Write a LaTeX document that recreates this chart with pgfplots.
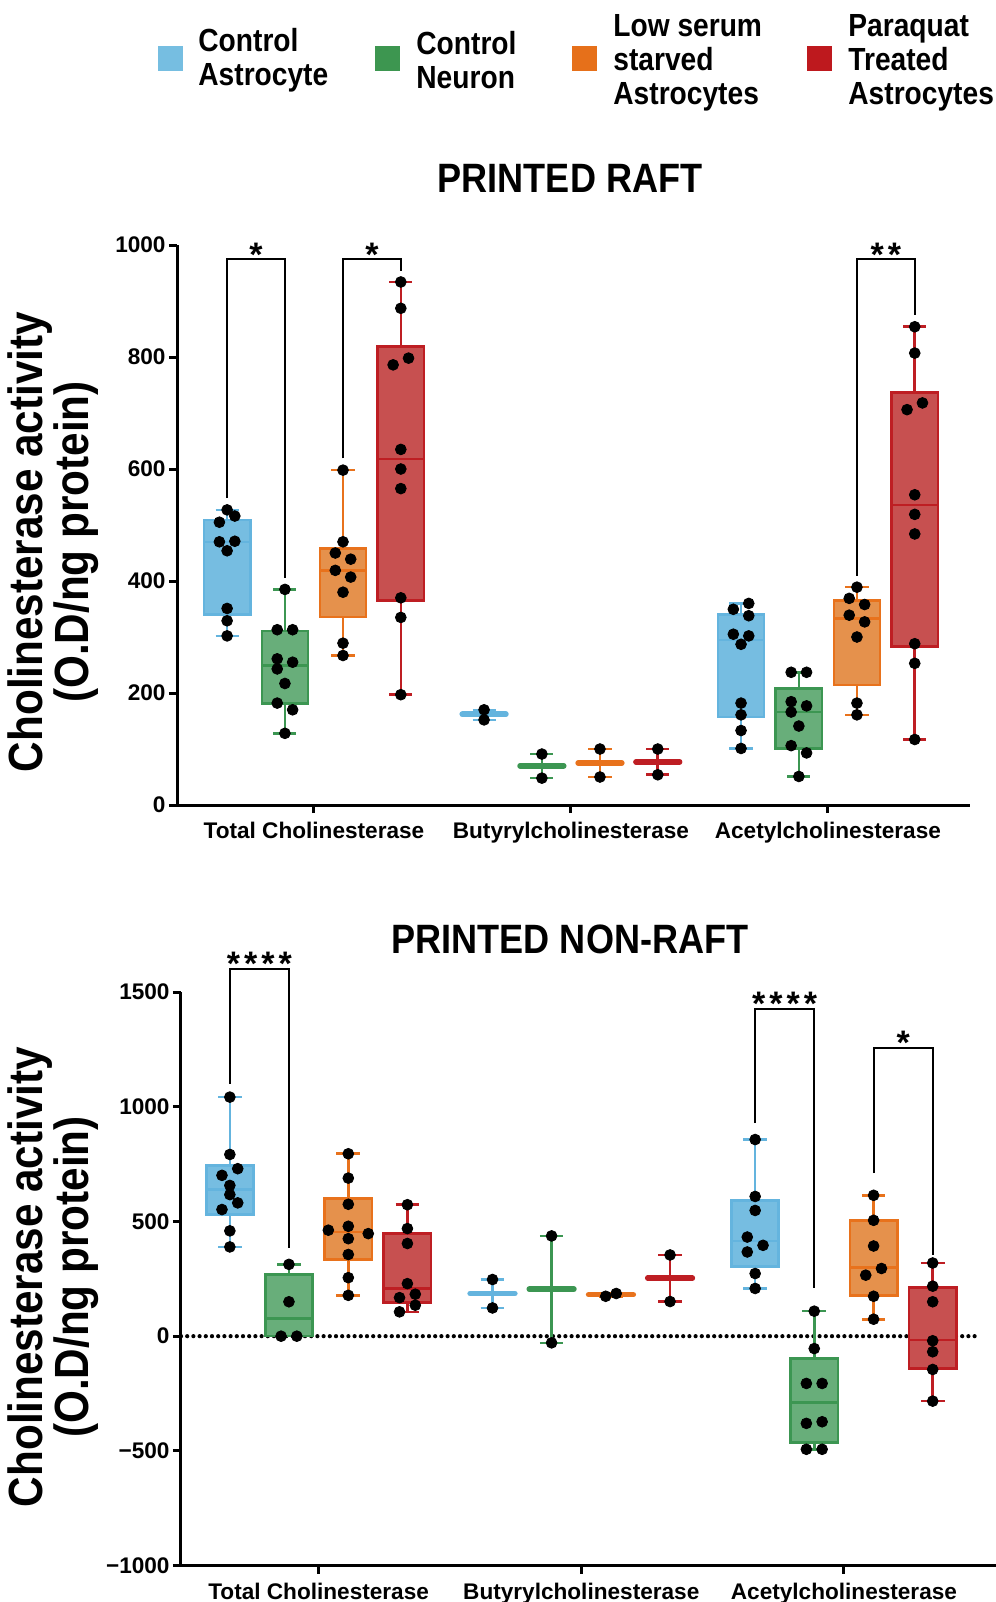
\documentclass[border=0pt]{standalone}
\usepackage{fontspec}
\setmainfont{Liberation Sans}
\newfontfamily\narrowfont{Liberation Sans}[FakeStretch=0.88]
\usepackage{pgfplots}
\pgfplotsset{compat=1.18}

\definecolor{bL}{RGB}{100,180,222}
\definecolor{bF}{RGB}{118,189,225}
\definecolor{gL}{RGB}{60,150,82}
\definecolor{gF}{RGB}{104,174,122}
\definecolor{oL}{RGB}{232,114,28}
\definecolor{oF}{RGB}{229,145,76}
\definecolor{rL}{RGB}{190,30,35}
\definecolor{rF}{RGB}{199,80,80}
\definecolor{bS}{RGB}{118,190,225}
\definecolor{gS}{RGB}{61,150,80}
\definecolor{oS}{RGB}{230,112,26}
\definecolor{rS}{RGB}{190,25,30}

% box: position, lower whisker, q1, median, q3, upper whisker, colour prefix
\newcommand{\bx}[7]{%
 \pgfmathsetmacro\xa{#1-0.09}\pgfmathsetmacro\xb{#1+0.09}%
 \pgfmathsetmacro\ca{#1-0.045}\pgfmathsetmacro\cb{#1+0.045}%
 \addplot[draw=#7L, line width=1.3pt] coordinates {(#1,#2) (#1,#3)};
 \addplot[draw=#7L, line width=1.3pt] coordinates {(#1,#5) (#1,#6)};
 \addplot[draw=#7L, line width=1.3pt] coordinates {(\ca,#2) (\cb,#2)};
 \addplot[draw=#7L, line width=1.3pt] coordinates {(\ca,#6) (\cb,#6)};
 \addplot[draw=#7L, fill=#7F, line width=1.3pt] coordinates {(\xa,#3) (\xb,#3) (\xb,#5) (\xa,#5)} --cycle;
 \addplot[draw=#7L, line width=1.3pt] coordinates {(\xa,#4) (\xb,#4)};
}
% flat box: position, lower whisker, median, upper whisker, colour prefix
\newcommand{\fbx}[5]{%
 \pgfmathsetmacro\xa{#1-0.085}\pgfmathsetmacro\xb{#1+0.085}%
 \pgfmathsetmacro\ca{#1-0.045}\pgfmathsetmacro\cb{#1+0.045}%
 \addplot[draw=#5L, line width=1.3pt] coordinates {(#1,#2) (#1,#4)};
 \addplot[draw=#5L, line width=1.3pt] coordinates {(\ca,#2) (\cb,#2)};
 \addplot[draw=#5L, line width=1.3pt] coordinates {(\ca,#4) (\cb,#4)};
 \addplot[draw=#5L, line width=2.8pt, line cap=round] coordinates {(\xa,#3) (\xb,#3)};
}
\newcommand{\brk}[7]{\draw[line width=1.1pt, black] (axis cs:#1,#2) -- (axis cs:#1,#5) -- (axis cs:#3,#5) -- (axis cs:#3,#4);
  \node[anchor=base, inner sep=0pt, font=\bfseries\fontsize{17}{17}\selectfont, yshift=-3.5pt] at (axis cs:#6,#5) {#7};}

\pgfplotsset{
 myaxis/.style={
  scale only axis, clip=false,
  axis x line=bottom, axis y line=left,
  axis line style={-, line width=1.5pt, black},
  tick align=outside, major tick length=4pt,
  tick style={line width=1.5pt, black},
  xtick={0,1,2},
  xticklabels={Total Cholinesterase,Butyrylcholinesterase,Acetylcholinesterase},
  ticklabel style={font=\bfseries\fontsize{11.3}{13}\selectfont},
  yticklabel style={xshift=1.8pt},
  xticklabel style={yshift=-1pt},
  minor tick num=0,
 },
 mydots/.style={only marks, mark=*, mark size=2.7pt, black},
}

\begin{document}
\begin{tikzpicture}
\path[use as bounding box] (0pt,0pt) rectangle (498pt,-801pt);

% ---------------- TOP PANEL ----------------
\begin{axis}[myaxis, at={(88.5pt,-402.5pt)}, anchor=south west,
  width=396.5pt, height=280pt,
  xmin=-0.533, xmax=2.553, ymin=0, ymax=1000,
  ytick={0,200,400,600,800,1000}, yticklabels={0,200,400,600,800,1000}]
% Total
\bx{-0.338}{302}{340}{470}{509}{527}{b}
\bx{-0.113}{128}{181}{249}{311}{385}{g}
\bx{0.113}{267}{336}{419}{458}{598}{o}
\bx{0.338}{197}{365}{618}{819}{934}{r}
% Butyryl
\fbx{0.662}{152}{162}{170}{b}
\fbx{0.887}{48}{70}{91}{g}
\fbx{1.113}{50}{75}{100}{o}
\fbx{1.338}{54}{77}{100}{r}
% Acetyl
\bx{1.662}{101}{157}{295}{340}{360}{b}
\bx{1.887}{51}{101}{166}{208}{237}{g}
\bx{2.113}{161}{214}{333}{365}{389}{o}
\bx{2.338}{117}{283}{536}{737}{854}{r}
% dots
\addplot[mydots] coordinates {(-0.338,527) (-0.308,516) (-0.368,505) (-0.368,470) (-0.308,471) (-0.338,454) (-0.338,351) (-0.338,329) (-0.338,302)};
\addplot[mydots] coordinates {(-0.113,385) (-0.143,313) (-0.083,313) (-0.143,261) (-0.083,255) (-0.143,243) (-0.113,217) (-0.143,182) (-0.083,170) (-0.113,128)};
\addplot[mydots] coordinates {(0.113,598) (0.113,470) (0.083,450) (0.143,439) (0.083,419) (0.143,407) (0.113,380) (0.113,289) (0.113,267)};
\addplot[mydots] coordinates {(0.338,934) (0.338,887) (0.308,786) (0.368,798) (0.338,635) (0.338,600) (0.338,565) (0.338,370) (0.338,335) (0.338,197)};
\addplot[mydots] coordinates {(0.662,170) (0.662,152) (0.887,91) (0.887,48) (1.113,100) (1.113,50) (1.338,100) (1.338,54)};
\addplot[mydots] coordinates {(1.692,360) (1.632,349.5) (1.692,338) (1.632,305) (1.692,302) (1.662,287) (1.662,182) (1.662,161) (1.662,133) (1.662,101)};
\addplot[mydots] coordinates {(1.857,237) (1.917,237) (1.857,184.5) (1.917,177) (1.857,166) (1.887,141) (1.857,106) (1.917,93) (1.887,51)};
\addplot[mydots] coordinates {(2.113,389) (2.083,369) (2.143,358) (2.083,339) (2.143,327) (2.113,300) (2.113,182) (2.113,161)};
\addplot[mydots] coordinates {(2.338,854) (2.338,807) (2.308,706) (2.368,718) (2.338,554) (2.338,519) (2.338,484) (2.338,288) (2.338,253) (2.338,117)};
% brackets
\brk{-0.338}{548}{-0.113}{406}{975}{-0.2255}{*}
\brk{0.113}{619}{0.338}{954}{975}{0.2255}{*}
\brk{2.113}{409}{2.338}{875}{975}{2.2255}{*\hspace{2pt}*}
\end{axis}

% ---------------- BOTTOM PANEL ----------------
\begin{axis}[myaxis, at={(90.5pt,-782.8pt)}, anchor=south west,
  width=407.5pt, height=286.8pt,
  xmin=-0.524, xmax=2.579, ymin=-1000, ymax=1500,
  ytick={-1000,-500,0,500,1000,1500}, yticklabels={−1000,−500,0,500,1000,1500}]
\addplot[black, line width=2.1pt, dash pattern=on 0pt off 3.1pt, line cap=round] coordinates {(-0.524,0) (2.52,0)};
% Total
\bx{-0.338}{389}{531}{639}{745}{1042}{b}
\bx{-0.113}{0}{0}{77}{268}{313}{g}
\bx{0.113}{178}{334}{454}{599}{795}{o}
\bx{0.338}{106}{147}{208}{447}{573}{r}
% Butyryl
\fbx{0.662}{123}{186}{247}{b}
\fbx{0.887}{-29}{205}{437}{g}
\fbx{1.113}{174}{181}{186}{o}
\fbx{1.338}{151}{253}{354}{r}
% Acetyl
\bx{1.662}{208}{305}{415}{592}{857}{b}
\bx{1.887}{-493}{-463}{-289}{-97}{109}{g}
\bx{2.113}{74}{178.5}{299}{505}{614}{o}
\bx{2.338}{-283}{-141}{-17}{212}{319}{r}
% dots
\addplot[mydots] coordinates {(-0.338,1042) (-0.338,792) (-0.308,730) (-0.368,701) (-0.338,657) (-0.338,617) (-0.308,581) (-0.368,552) (-0.338,459) (-0.338,389)};
\addplot[mydots] coordinates {(-0.113,313) (-0.113,150) (-0.143,0) (-0.083,0)};
\addplot[mydots] coordinates {(0.113,795) (0.113,689) (0.113,575) (0.037,462) (0.113,479) (0.189,447) (0.113,425) (0.113,356) (0.113,255) (0.113,178)};
\addplot[mydots] coordinates {(0.338,573) (0.338,469) (0.338,404) (0.338,229) (0.308,168) (0.368,183) (0.368,135) (0.308,106)};
\addplot[mydots] coordinates {(0.662,247) (0.662,123) (0.887,437) (0.887,-29) (1.093,174) (1.133,186) (1.338,354) (1.338,151)};
\addplot[mydots] coordinates {(1.662,857) (1.662,609) (1.662,548) (1.632,432) (1.692,396) (1.632,367) (1.662,273) (1.662,208)};
\addplot[mydots] coordinates {(1.887,109) (1.887,-54) (1.857,-206) (1.917,-206) (1.857,-380) (1.917,-373) (1.857,-493) (1.917,-493)};
\addplot[mydots] coordinates {(2.113,614) (2.113,505) (2.113,393) (2.143,295) (2.083,266) (2.113,174) (2.113,74)};
\addplot[mydots] coordinates {(2.338,319) (2.338,218) (2.338,150) (2.338,-20) (2.338,-68) (2.338,-145) (2.338,-283)};
% brackets
\brk{-0.338}{1100}{-0.113}{385}{1601}{-0.2255}{*\hspace{2pt}*\hspace{2pt}*\hspace{2pt}*}
\brk{1.662}{929}{1.887}{212}{1427}{1.7745}{*\hspace{2pt}*\hspace{2pt}*\hspace{2pt}*}
\brk{2.113}{711}{2.338}{353}{1257}{2.2255}{*}
\end{axis}

% titles
\node[font=\narrowfont\bfseries\fontsize{20.5}{24}\selectfont] at (285pt,-89pt) {PRINTED RAFT};
\node[font=\narrowfont\bfseries\fontsize{20.5}{24}\selectfont] at (285pt,-469.5pt) {PRINTED NON-RAFT};

% y labels
\node[rotate=90, align=center, inner sep=0pt, font=\narrowfont\bfseries\fontsize{24}{18}\selectfont] at (26.6pt,-271pt) {Cholinesterase activity\\(O.D/ng protein)};
\node[rotate=90, align=center, inner sep=0pt, font=\narrowfont\bfseries\fontsize{24}{18}\selectfont] at (26.6pt,-638.5pt) {Cholinesterase activity\\(O.D/ng protein)};

% legend
\fill[bS] (78.9pt,-23pt) rectangle (91.5pt,-35.5pt);
\fill[gS] (187.5pt,-23pt) rectangle (200pt,-35.5pt);
\fill[oS] (286pt,-23pt) rectangle (298.5pt,-35.5pt);
\fill[rS] (403.5pt,-23pt) rectangle (416pt,-35.5pt);
\begin{scope}[every node/.style={anchor=west, align=left, inner sep=0pt, font=\narrowfont\bfseries\fontsize{16}{17}\selectfont}]
\node at (99pt,-30pt) {Control\\Astrocyte};
\node at (208pt,-30pt) {Control\\Neuron};
\node at (306.5pt,-31.3pt) {Low serum\\starved\\Astrocytes};
\node at (424pt,-31.3pt) {Paraquat\\Treated\\Astrocytes};
\end{scope}
\end{tikzpicture}
\end{document}
